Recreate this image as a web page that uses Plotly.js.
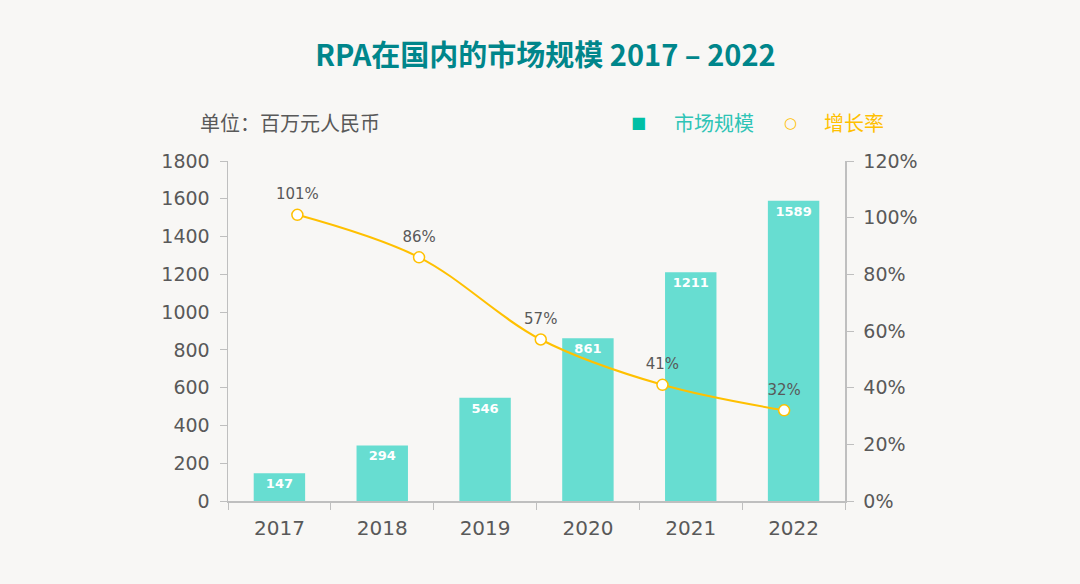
<!DOCTYPE html>
<html><head><meta charset="utf-8">
<script src="https://cdn.plot.ly/plotly-2.35.2.min.js"></script>
<style>html,body{margin:0;padding:0;background:#F8F7F5;}#chart{width:1080px;height:584px;}</style>
</head><body><div id="chart"></div>
<script>
const years = ['2017','2018','2019','2020','2021','2022'];
const marketSize = [147, 294, 546, 861, 1211, 1589];
const growthYears = ['2018','2019','2020','2021','2022'];
const growthRate = [1.01, 0.86, 0.57, 0.41, 0.32];
const growthLabels = ['101%','86%','57%','41%','32%'];
const leftTicks = [0,200,400,600,800,1000,1200,1400,1600,1800];
const rightTicks = [0,0.2,0.4,0.6,0.8,1.0,1.2];

const gray = '#595959';
const dv = 'DejaVu Sans, Verdana, sans-serif';
const yTickFont = {family:dv, size:19, color:gray};
const xTickFont = {family:dv, size:20, color:gray};
const cjk = 'Noto Sans CJK SC, sans-serif';

const bars = {
  type:'bar', x:years, y:marketSize, name:'市场规模',
  marker:{color:'#67DDD1'}, width:0.5,
  text:marketSize.map(String), textposition:'inside', insidetextanchor:'end',
  textfont:{family:dv, size:13, color:'#ffffff', weight:'bold'},
  constraintext:'none', hoverinfo:'x+y', showlegend:false
};
const line = {
  type:'scatter', mode:'lines+markers', x:growthYears, y:growthRate, name:'增长率',
  xaxis:'x2', yaxis:'y2',
  line:{color:'#FFC000', width:2, shape:'spline', smoothing:1},
  marker:{size:11, color:'#ffffff', line:{color:'#FFC000', width:1.5}},
  cliponaxis:false, showlegend:false
};
const lineLabels = {
  type:'scatter', mode:'markers+text', x:growthYears, y:growthRate, name:'增长率标签',
  xaxis:'x2', yaxis:'y2',
  marker:{size:17, opacity:0},
  text:growthLabels, textposition:'top center',
  textfont:{family:dv, size:15, color:gray},
  cliponaxis:false, showlegend:false, hoverinfo:'skip'
};

const layout = {
  width:1080, height:584,
  paper_bgcolor:'#F8F7F5', plot_bgcolor:'#F8F7F5',
  margin:{l:228, r:235, t:161, b:83},
  title:{text:'<b>RPA在国内的市场规模 2017 – 2022</b>', font:{family:cjk, size:29, color:'#00868B'}, x:0.505, xanchor:'center', y:0.905, yanchor:'middle'},
  xaxis:{type:'category', tickfont:xTickFont, showline:true, linecolor:'#BFBFBF', linewidth:1.5,
    ticks:'outside', tickson:'boundaries', ticklen:7, tickcolor:'#BFBFBF', showgrid:false, zeroline:false,
    range:[-0.5,5.5], ticklabelstandoff:8},
  xaxis2:{type:'category', overlaying:'x', anchor:'y2', visible:false, range:[-0.57,4.5]},
  yaxis:{range:[0,1800], tickvals:leftTicks, tickfont:yTickFont, showline:true, linecolor:'#BFBFBF', linewidth:1.5,
    ticks:'outside', ticklen:7, tickcolor:'#BFBFBF', showgrid:false, zeroline:false, ticklabelstandoff:6},
  yaxis2:{range:[0,1.2], tickvals:rightTicks, tickformat:'.0%', overlaying:'y', side:'right', tickfont:yTickFont,
    showline:true, linecolor:'#BFBFBF', linewidth:1.5, ticks:'outside', ticklen:7, tickcolor:'#BFBFBF',
    showgrid:false, zeroline:false, ticklabelstandoff:6},
  annotations:[
    {xref:'paper', yref:'paper', x:-0.049, y:1.112, xanchor:'left', yanchor:'middle', showarrow:false,
     text:'单位：百万元人民币', font:{family:cjk, size:20, color:gray}},
    {xref:'paper', yref:'paper', x:0.666, y:1.112, xanchor:'center', yanchor:'middle', showarrow:false,
     text:'■', font:{family:'DejaVu Sans', size:16, color:'#00BFA5'}},
    {xref:'paper', yref:'paper', x:0.719, y:1.112, xanchor:'left', yanchor:'middle', showarrow:false,
     text:'市场规模', font:{family:cjk, size:20, color:'#2EC4B6'}},
    {xref:'paper', yref:'paper', x:0.911, y:1.112, xanchor:'center', yanchor:'middle', showarrow:false,
     text:'○', font:{family:'DejaVu Sans', size:15, color:'#FFC000'}},
    {xref:'paper', yref:'paper', x:0.962, y:1.112, xanchor:'left', yanchor:'middle', showarrow:false,
     text:'增长率', font:{family:cjk, size:20, color:'#FFC000'}}
  ],
  showlegend:false
};
Plotly.newPlot('chart', [bars, line, lineLabels], layout, {displayModeBar:false, staticPlot:true});
</script></body></html>
